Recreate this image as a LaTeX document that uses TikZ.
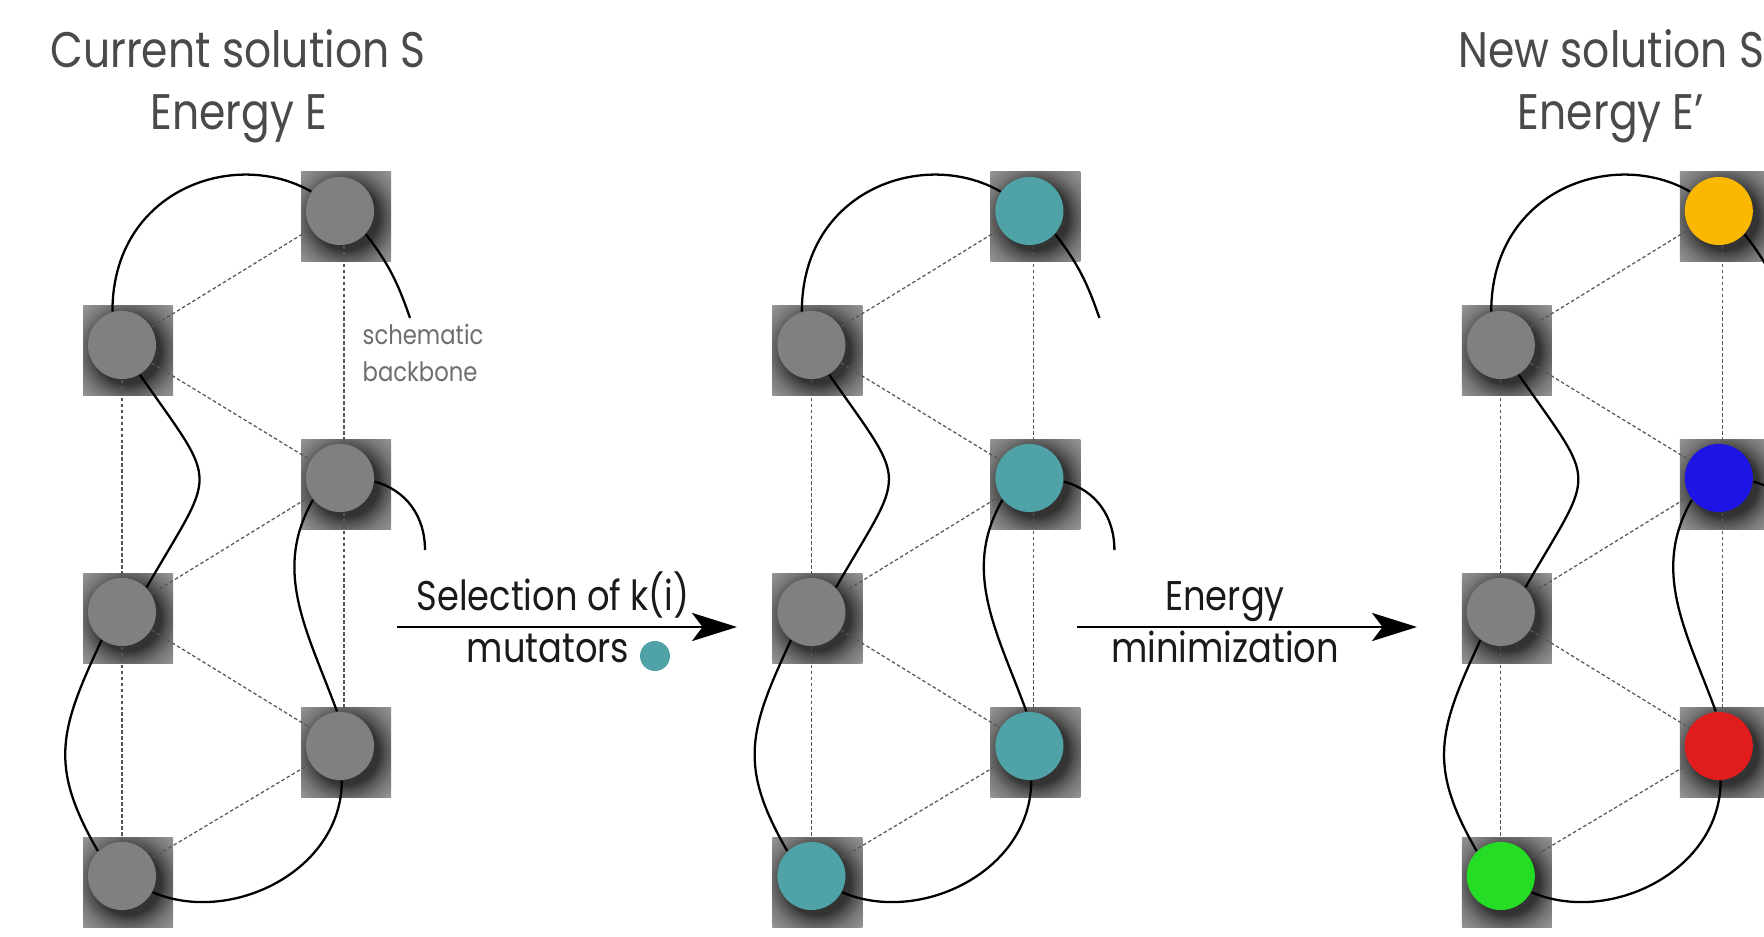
\documentclass[tikz,border=0pt]{standalone}
\usepackage{fontspec}
\setmainfont{Poppins}
\newfontfamily\ttlfont[FakeStretch=0.85]{Poppins}
\newfontfamily\lblfont[FakeStretch=0.85]{Poppins}
\usetikzlibrary{arrows.meta}
\definecolor{ttlgray}{HTML}{4A4A4A}
\definecolor{lblblack}{HTML}{1A1A1A}
\definecolor{notegray}{HTML}{6E6E6E}
\definecolor{beadgray}{HTML}{808080}
\definecolor{beadteal}{HTML}{4FA3A6}
\definecolor{beadyellow}{HTML}{FBB800}
\definecolor{beadblue}{HTML}{1E14E6}
\definecolor{beadred}{HTML}{E01C1C}
\definecolor{beadgreen}{HTML}{26DD26}
\definecolor{dashgray}{HTML}{555555}
% the path's bounding box maps onto [-25bp,25bp]: 25bp = 65px here
\pgfdeclareradialshading{halo}{\pgfpoint{0bp}{0bp}}{color(0bp)=(black!80); color(12.5bp)=(black!80); color(15bp)=(black!68); color(19bp)=(black!53); color(25bp)=(black!40); color(50bp)=(black!40)}
\tikzset{
  bead/.style={circle, minimum size=0.68cm, inner sep=0pt, draw=none},
  backdash/.style={draw=dashgray, line width=0.35pt, dash pattern=on 1pt off 0.7pt},
  backbone/.style={draw=black, line width=0.65pt},
  bigarrow/.style={draw=black, line width=0.85pt, -{Stealth[length=12.8pt, width=8pt, inset=3pt]}},
  ttl/.style={font=\ttlfont\fontsize{14.2pt}{17pt}\selectfont, text=ttlgray, anchor=base, inner sep=0pt},
  lbl/.style={font=\lblfont\fontsize{11.8pt}{14pt}\selectfont, text=lblblack, anchor=base, inner sep=0pt},
  note/.style={font=\lblfont\fontsize{7.6pt}{9pt}\selectfont, text=notegray, anchor=base west, inner sep=0pt}
}
\newcommand{\nodebox}[4]{%
  \begin{scope}
    \clip ({#2-39},{-(#3)+39}) rectangle ({#2+51},{-(#3)-51});
    \shade[shading=halo] ({#2+6},{-(#3)-6}) circle (65);
  \end{scope}
  \node[bead, fill=#4] (#1) at (#2,-#3) {};
}
\newcommand{\panel}[8]{%
  \begin{scope}[xshift=#2]
    \nodebox{#1A}{340}{211}{#3}
    \nodebox{#1B}{122}{345}{#4}
    \nodebox{#1C}{340}{478}{#5}
    \nodebox{#1D}{122}{612}{#6}
    \nodebox{#1E}{340}{746}{#7}
    \nodebox{#1F}{122}{876}{#8}
    \coordinate (#1At) at (410,-318);
    \coordinate (#1Ct) at (425,-550);
    \draw[backdash] (#1B) -- (#1A);
    \draw[backdash] ([xshift=0.04cm]#1A.south) -- ([xshift=0.04cm]#1C.north);
    \draw[backdash] (#1B) -- (#1C);
    \draw[backdash] (#1B) -- (#1D);
    \draw[backdash] (#1C) -- (#1D);
    \draw[backdash] ([xshift=0.04cm]#1C.south) -- ([xshift=0.04cm]#1E.north);
    \draw[backdash] (#1D) -- (#1E);
    \draw[backdash] (#1D) -- (#1F);
    \draw[backdash] (#1E) -- (#1F);
    \draw[backbone] (#1At) to[out=109, in=-52] (#1A.-42);
    \draw[backbone] (#1A.146) to[out=150, in=90, out distance=0.88cm, in distance=1.22cm] (#1B.106);
    \draw[backbone] (#1B.-59) to[out=-55, in=60, looseness=1.68] (#1D.45);
    \draw[backbone] (#1D.234) to[out=245, in=120, looseness=1.2] (#1F.134);
    \draw[backbone] (#1F.-28) to[out=-23, in=-90, out distance=0.85cm, in distance=0.9cm] (#1E.-87);
    \draw[backbone] (#1E.95) to[out=110, in=240] (#1C.219);
    \draw[backbone] (#1C.-6) to[out=-15, in=90] (#1Ct);
  \end{scope}}
\begin{document}
\begin{tikzpicture}[x=0.01cm, y=0.01cm]
  \useasboundingbox (0,0) rectangle (1764,-937);
  \clip (0,0) rectangle (1764,-937);
  \fill[white] (0,0) rectangle (1764,-937);

  \panel{p}{0cm}{beadgray}{beadgray}{beadgray}{beadgray}{beadgray}{beadgray}
  \panel{q}{6.89cm}{beadteal}{beadgray}{beadteal}{beadgray}{beadteal}{beadteal}
  \panel{r}{13.78cm}{beadyellow}{beadgray}{beadblue}{beadgray}{beadred}{beadgreen}

  % titles
  \node[ttl] (t1a) at (238,-68) {Current solution S};
  \node[ttl] (t1b) at (239,-130) {Energy E};
  \node[ttl] (t3a) at (1616,-68) {New solution S’};
  \node[ttl] (t3b) at (1611,-130) {Energy E’};

  % note
  \node[note] (n1) at (362,-345) {schematic};
  \node[note] (n2) at (362,-382) {backbone};

  % arrows
  \coordinate (a1s) at (397,-627);
  \coordinate (a1e) at (737,-627);
  \coordinate (a2s) at (1077,-627);
  \coordinate (a2e) at (1417,-627);
  \draw[bigarrow] (a1s) -- (a1e);
  \draw[bigarrow] (a2s) -- (a2e);
  \node[lbl] (l1) at (553,-610) {Selection of k(i)};
  \node[lbl] (l2) at (548,-662) {mutators};
  \node[bead, fill=beadteal, minimum size=0.3cm] (mdot) at (655,-656) {};
  \node[lbl] (l3) at (1225,-610) {Energy};
  \node[lbl] (l4) at (1225,-662) {minimization};
\end{tikzpicture}
\end{document}
